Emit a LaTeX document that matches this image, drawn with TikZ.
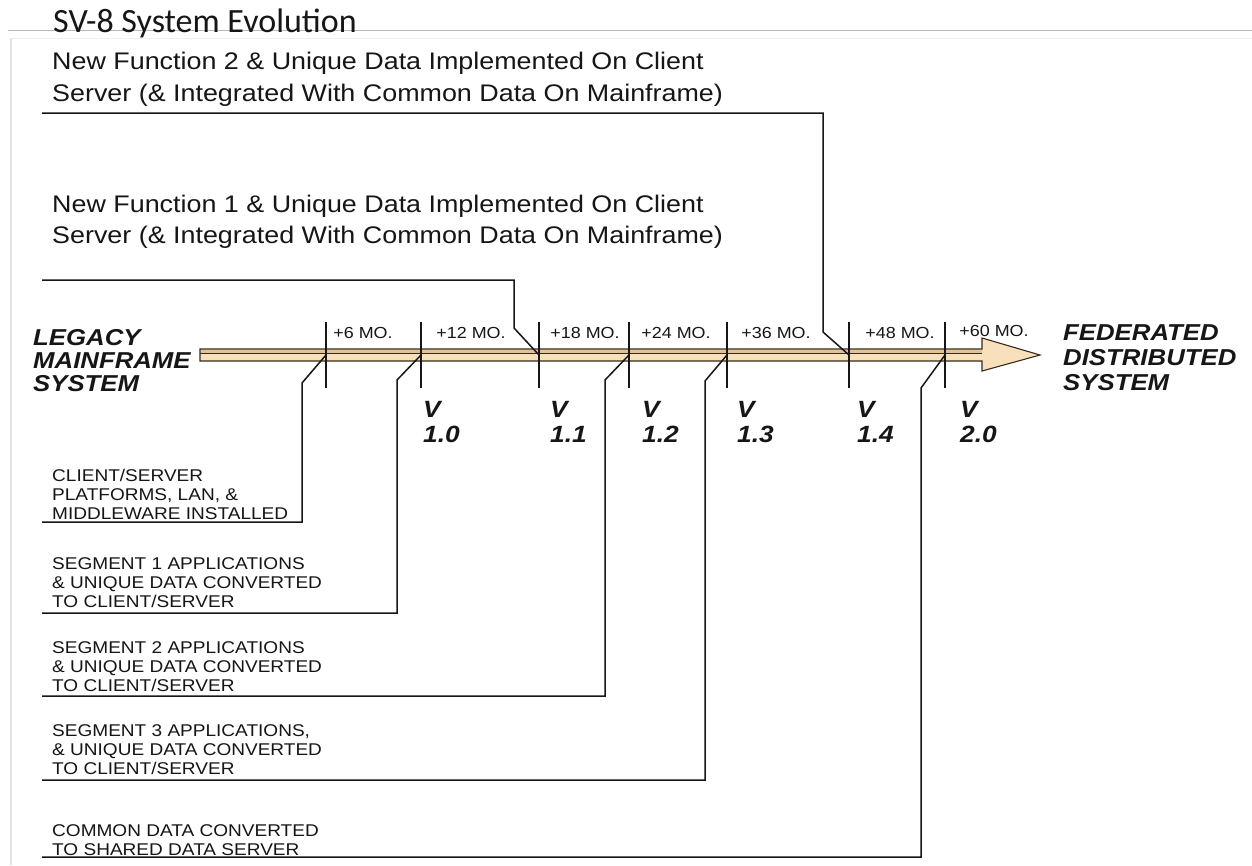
\documentclass[tikz,border=0pt]{standalone}
\usepackage{fontspec}
\usepackage{graphicx}
\setmainfont{Liberation Sans}
\newfontfamily\titlefont{Carlito}
% slightly widened lettering used throughout the chart
\newcommand\hs[1]{\scalebox{1.12}[1]{#1}}
\definecolor{barfill}{RGB}{248,224,188}
\definecolor{barband}{RGB}{226,194,146}
\definecolor{barline}{RGB}{55,42,28}
\definecolor{ink}{RGB}{22,22,22}

\begin{document}
\begin{tikzpicture}[x=1pt,y=-1pt,
  every node/.style={inner sep=0pt, text=ink},
  toptext/.style={anchor=north west, align=left, font=\fontsize{24}{32}\selectfont},
  stagetext/.style={anchor=north west, align=left, font=\fontsize{17}{19}\selectfont},
  endtext/.style={anchor=north west, align=left, font=\fontsize{23}{23}\selectfont\bfseries\itshape},
  verlabel/.style={anchor=north west, align=left, font=\fontsize{23.5}{25}\selectfont\bfseries\itshape},
  months/.style={anchor=base, font=\fontsize{16}{16}\selectfont},
  milestone/.style={line width=1.3pt, draw=ink},
  leader/.style={line width=1.5pt, draw=ink, line join=miter},
]
\useasboundingbox (0,0) rectangle (1252,865);
\fill[white] (0,0) rectangle (1252,865);

% slide frame
\draw[gray!55, line width=1pt] (8,30) -- (1252,30);
\draw[gray!22, line width=1.5pt] (11,38) -- (11,865);
\draw[gray!12, line width=1pt] (11,38) -- (1252,38);

% title
\node[anchor=base west, font=\titlefont\fontsize{34}{34}\selectfont] (title) at (53,32) {SV-8 System Evolution};

% evolution arrow
\filldraw[fill=barfill, draw=barline, line width=1.1pt]
  (200,349) -- (982,349) -- (982,338) -- (1040,355) -- (982,371) -- (982,361) -- (200,361) -- cycle;
\fill[barband] (200.6,349.6) rectangle (982,353);
\draw[barline, line width=0.6pt] (200,353) -- (982,353);

% milestones on the arrow
\foreach \n/\x in {1/326,2/421,3/539,4/629,5/727,6/849,7/945}
  \coordinate (t\n) at (\x,355);
\foreach \n in {1,...,7}
  \draw[milestone] (t\n) ++(0,-33) -- ++(0,66);

% interval labels
\node[months] (m1) at (363,338) {\hs{+6 MO.}};
\node[months] (m2) at (471,338) {\hs{+12 MO.}};
\node[months] (m3) at (585,338) {\hs{+18 MO.}};
\node[months] (m4) at (676,338) {\hs{+24 MO.}};
\node[months] (m5) at (776,338) {\hs{+36 MO.}};
\node[months] (m6) at (900,338) {\hs{+48 MO.}};
\node[months] (m7) at (994,336) {\hs{+60 MO.}};

% version labels
\node[verlabel] (v10) at (423,401) {\hs{V}\\\hs{1.0}};
\node[verlabel] (v11) at (550,401) {\hs{V}\\\hs{1.1}};
\node[verlabel] (v12) at (642,401) {\hs{V}\\\hs{1.2}};
\node[verlabel] (v13) at (737,401) {\hs{V}\\\hs{1.3}};
\node[verlabel] (v14) at (857,401) {\hs{V}\\\hs{1.4}};
\node[verlabel] (v20) at (960,401) {\hs{V}\\\hs{2.0}};

% end states
\node[endtext] (legacy) at (33,329) {\hs{LEGACY}\\\hs{MAINFRAME}\\\hs{SYSTEM}};
\node[endtext, font=\fontsize{23}{25}\selectfont\bfseries\itshape] (federated) at (1063,324)
  {\hs{FEDERATED}\\\hs{DISTRIBUTED}\\\hs{SYSTEM}};

% new function descriptions (above the arrow)
\node[toptext] (fn2) at (52,52)
  {\hs{New Function 2 \& Unique Data Implemented On Client}\\\hs{Server (\& Integrated With Common Data On Mainframe)}};
\node[toptext, font=\fontsize{24}{31}\selectfont] (fn1) at (52,195)
  {\hs{New Function 1 \& Unique Data Implemented On Client}\\\hs{Server (\& Integrated With Common Data On Mainframe)}};

\coordinate (ufn2) at (42,113);
\coordinate (bfn2) at (823,332);
\coordinate (ufn1) at (42,280);
\coordinate (bfn1) at (514,328);
\draw[leader] (ufn2) -- (ufn2 -| bfn2) -- (bfn2) -- (t6);
\draw[leader] (ufn1) -- (ufn1 -| bfn1) -- (bfn1) -- (t3);

% migration steps (below the arrow)
\node[stagetext] (s0) at (52,469)
  {\hs{CLIENT/SERVER}\\\hs{PLATFORMS, LAN, \&}\\\hs{MIDDLEWARE INSTALLED}};
\node[stagetext] (s1) at (52,557)
  {\hs{SEGMENT 1 APPLICATIONS}\\\hs{\& UNIQUE DATA CONVERTED}\\\hs{TO CLIENT/SERVER}};
\node[stagetext] (s2) at (52,641)
  {\hs{SEGMENT 2 APPLICATIONS}\\\hs{\& UNIQUE DATA CONVERTED}\\\hs{TO CLIENT/SERVER}};
\node[stagetext] (s3) at (52,724)
  {\hs{SEGMENT 3 APPLICATIONS,}\\\hs{\& UNIQUE DATA CONVERTED}\\\hs{TO CLIENT/SERVER}};
\node[stagetext] (s4) at (52,824)
  {\hs{COMMON DATA CONVERTED}\\\hs{TO SHARED DATA SERVER}};

\coordinate (us0) at (42,522);  \coordinate (bs0) at (302,383);
\coordinate (us1) at (42,613);  \coordinate (bs1) at (397,380);
\coordinate (us2) at (42,696);  \coordinate (bs2) at (605,380);
\coordinate (us3) at (42,780);  \coordinate (bs3) at (705,381);
\coordinate (us4) at (42,857);  \coordinate (bs4) at (921,388);
\draw[leader] (us0) -- (us0 -| bs0) -- (bs0) -- (t1);
\draw[leader] (us1) -- (us1 -| bs1) -- (bs1) -- (t2);
\draw[leader] (us2) -- (us2 -| bs2) -- (bs2) -- (t4);
\draw[leader] (us3) -- (us3 -| bs3) -- (bs3) -- (t5);
\draw[leader] (us4) -- (us4 -| bs4) -- (bs4) -- (t7);
\end{tikzpicture}
\end{document}
